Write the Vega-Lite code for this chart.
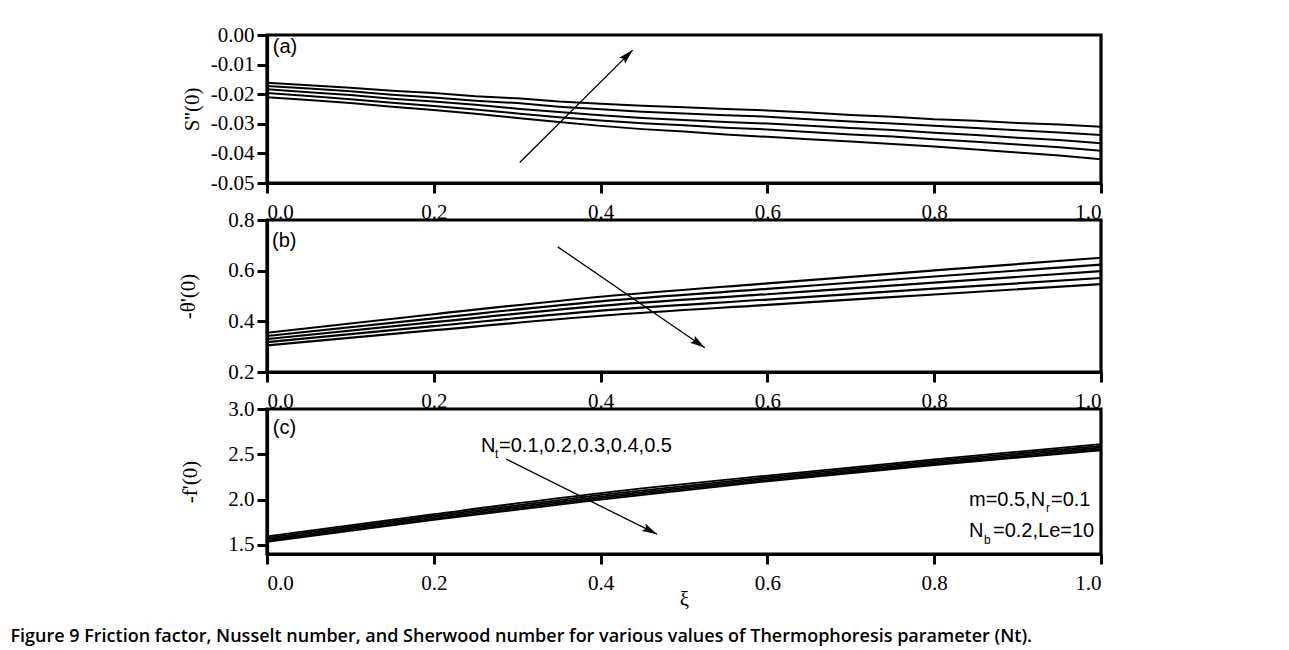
{
  "$schema": "https://vega.github.io/schema/vega-lite/v6.json",
  "background": "white",
  "padding": {"left": 10, "top": 22, "right": 10, "bottom": 4},
  "title": {
    "text": "Figure 9 Friction factor, Nusselt number, and Sherwood number for various values of Thermophoresis parameter (Nt).",
    "orient": "bottom",
    "anchor": "start",
    "frame": "bounds",
    "dx": -165,
    "offset": 17,
    "font": "Open Sans",
    "fontSize": 18,
    "fontWeight": 600,
    "color": "black"
  },
  "spacing": 37,
  "bounds": "flush",
  "config": {
    "view": {"stroke": "black", "strokeWidth": 3.2},
    "axis": {
      "domainColor": "black",
      "domainWidth": 3.2,
      "tickColor": "black",
      "tickWidth": 3,
      "tickSize": 10,
      "tickCount": 12,
      "grid": false,
      "labelOverlap": false,
      "labelFont": "Liberation Serif",
      "labelFontSize": 21,
      "labelColor": "black",
      "labelPadding": 3,
      "titleFont": "Liberation Serif",
      "titleFontSize": 21,
      "titleFontWeight": "normal",
      "titleColor": "black"
    },
    "axisX": {"labelPadding": 8}
  },
  "vconcat": [
    {
      "width": 834,
      "height": 148,
      "layer": [
        {
          "data": {"values": [
            {"xi": 0.00, "n1": -0.0161, "n2": -0.0172, "n3": -0.0183, "n4": -0.0196, "n5": -0.0210},
            {"xi": 0.05, "n1": -0.0170, "n2": -0.0181, "n3": -0.0193, "n4": -0.0206, "n5": -0.0220},
            {"xi": 0.10, "n1": -0.0178, "n2": -0.0190, "n3": -0.0203, "n4": -0.0217, "n5": -0.0230},
            {"xi": 0.15, "n1": -0.0188, "n2": -0.0202, "n3": -0.0215, "n4": -0.0229, "n5": -0.0242},
            {"xi": 0.20, "n1": -0.0196, "n2": -0.0211, "n3": -0.0225, "n4": -0.0240, "n5": -0.0253},
            {"xi": 0.25, "n1": -0.0207, "n2": -0.0222, "n3": -0.0236, "n4": -0.0252, "n5": -0.0266},
            {"xi": 0.30, "n1": -0.0214, "n2": -0.0230, "n3": -0.0249, "n4": -0.0265, "n5": -0.0280},
            {"xi": 0.35, "n1": -0.0225, "n2": -0.0242, "n3": -0.0260, "n4": -0.0278, "n5": -0.0294},
            {"xi": 0.40, "n1": -0.0232, "n2": -0.0251, "n3": -0.0271, "n4": -0.0289, "n5": -0.0307},
            {"xi": 0.45, "n1": -0.0239, "n2": -0.0259, "n3": -0.0280, "n4": -0.0298, "n5": -0.0318},
            {"xi": 0.50, "n1": -0.0244, "n2": -0.0265, "n3": -0.0287, "n4": -0.0305, "n5": -0.0326},
            {"xi": 0.55, "n1": -0.0250, "n2": -0.0271, "n3": -0.0294, "n4": -0.0313, "n5": -0.0336},
            {"xi": 0.60, "n1": -0.0255, "n2": -0.0276, "n3": -0.0299, "n4": -0.0319, "n5": -0.0344},
            {"xi": 0.65, "n1": -0.0262, "n2": -0.0285, "n3": -0.0307, "n4": -0.0328, "n5": -0.0352},
            {"xi": 0.70, "n1": -0.0270, "n2": -0.0292, "n3": -0.0314, "n4": -0.0336, "n5": -0.0360},
            {"xi": 0.75, "n1": -0.0276, "n2": -0.0299, "n3": -0.0321, "n4": -0.0343, "n5": -0.0368},
            {"xi": 0.80, "n1": -0.0285, "n2": -0.0307, "n3": -0.0330, "n4": -0.0352, "n5": -0.0377},
            {"xi": 0.85, "n1": -0.0290, "n2": -0.0314, "n3": -0.0338, "n4": -0.0361, "n5": -0.0387},
            {"xi": 0.90, "n1": -0.0297, "n2": -0.0322, "n3": -0.0347, "n4": -0.0370, "n5": -0.0397},
            {"xi": 0.95, "n1": -0.0302, "n2": -0.0329, "n3": -0.0355, "n4": -0.0379, "n5": -0.0407},
            {"xi": 1.00, "n1": -0.0310, "n2": -0.0338, "n3": -0.0366, "n4": -0.0391, "n5": -0.0420}
          ]},
          "transform": [{"fold": ["n1", "n2", "n3", "n4", "n5"], "as": ["Nt", "val"]}],
          "mark": {"type": "line", "color": "black", "strokeWidth": 2},
          "encoding": {
            "x": {"field": "xi", "type": "quantitative", "scale": {"domain": [0, 1], "nice": false},
                  "axis": {"values": [0, 0.2, 0.4, 0.6, 0.8, 1.0], "format": ".1f", "title": null}},
            "y": {"field": "val", "type": "quantitative", "scale": {"domain": [-0.05, 0], "nice": false},
                  "axis": {"values": [-0.05, -0.04, -0.03, -0.02, -0.01, 0], "tickCount": 12, "labelExpr": "datum.value < 0 ? '-' + format(-datum.value, '.2f') : format(datum.value, '.2f')", "title": "S''(0)", "titleX": -65}},
            "detail": {"field": "Nt"}
          }
        },
        {
          "data": {"values": [{"x1": 0.303, "y1": -0.0431, "x2": 0.4385, "y2": -0.0051}]},
          "mark": {"type": "rule", "color": "black", "strokeWidth": 1.3},
          "encoding": {
            "x": {"field": "x1", "type": "quantitative"},
            "y": {"field": "y1", "type": "quantitative"},
            "x2": {"field": "x2"},
            "y2": {"field": "y2"}
          }
        },
        {
          "data": {"values": [{"x2": 0.4385, "y2": -0.0051}]},
          "mark": {"type": "point", "shape": "M0,0L0.28,1L0,0.82L-0.28,1Z", "filled": true, "color": "black", "opacity": 1, "size": 900, "angle": 45},
          "encoding": {
            "x": {"field": "x2", "type": "quantitative"},
            "y": {"field": "y2", "type": "quantitative"}
          }
        },
        {
          "data": {"values": [{"x": 0.007, "y": -0.004, "t": "(a)"}]},
          "mark": {"type": "text", "align": "left", "baseline": "middle", "font": "Liberation Sans", "fontSize": 20, "color": "black"},
          "encoding": {
            "x": {"field": "x", "type": "quantitative"},
            "y": {"field": "y", "type": "quantitative"},
            "text": {"field": "t"}
          }
        }
      ]
    },
    {
      "width": 834,
      "height": 152,
      "layer": [
        {
          "data": {"values": [
            {"xi": 0.0, "n1": 0.355, "n2": 0.342, "n3": 0.330, "n4": 0.318, "n5": 0.305},
            {"xi": 0.2, "n1": 0.428, "n2": 0.412, "n3": 0.397, "n4": 0.381, "n5": 0.365},
            {"xi": 0.4, "n1": 0.497, "n2": 0.479, "n3": 0.461, "n4": 0.442, "n5": 0.422},
            {"xi": 0.6, "n1": 0.550, "n2": 0.528, "n3": 0.507, "n4": 0.486, "n5": 0.465},
            {"xi": 0.8, "n1": 0.601, "n2": 0.577, "n3": 0.553, "n4": 0.529, "n5": 0.506},
            {"xi": 1.0, "n1": 0.651, "n2": 0.624, "n3": 0.598, "n4": 0.571, "n5": 0.547}
          ]},
          "transform": [{"fold": ["n1", "n2", "n3", "n4", "n5"], "as": ["Nt", "val"]}],
          "mark": {"type": "line", "color": "black", "strokeWidth": 2.2, "interpolate": "monotone"},
          "encoding": {
            "x": {"field": "xi", "type": "quantitative", "scale": {"domain": [0, 1], "nice": false},
                  "axis": {"values": [0, 0.2, 0.4, 0.6, 0.8, 1.0], "format": ".1f", "title": null}},
            "y": {"field": "val", "type": "quantitative", "scale": {"domain": [0.2, 0.8], "nice": false},
                  "axis": {"values": [0.2, 0.4, 0.6, 0.8], "format": ".1f", "title": "-θ'(0)", "titleX": -69}},
            "detail": {"field": "Nt"}
          }
        },
        {
          "data": {"values": [{"x1": 0.3486, "y1": 0.694, "x2": 0.525, "y2": 0.296}]},
          "mark": {"type": "rule", "color": "black", "strokeWidth": 1.3},
          "encoding": {
            "x": {"field": "x1", "type": "quantitative"},
            "y": {"field": "y1", "type": "quantitative"},
            "x2": {"field": "x2"},
            "y2": {"field": "y2"}
          }
        },
        {
          "data": {"values": [{"x2": 0.525, "y2": 0.296}]},
          "mark": {"type": "point", "shape": "M0,0L0.28,1L0,0.82L-0.28,1Z", "filled": true, "color": "black", "opacity": 1, "size": 900, "angle": 124},
          "encoding": {
            "x": {"field": "x2", "type": "quantitative"},
            "y": {"field": "y2", "type": "quantitative"}
          }
        },
        {
          "data": {"values": [{"x": 0.006, "y": 0.7155, "t": "(b)"}]},
          "mark": {"type": "text", "align": "left", "baseline": "middle", "font": "Liberation Sans", "fontSize": 20, "color": "black"},
          "encoding": {
            "x": {"field": "x", "type": "quantitative"},
            "y": {"field": "y", "type": "quantitative"},
            "text": {"field": "t"}
          }
        }
      ]
    },
    {
      "width": 834,
      "height": 145,
      "layer": [
        {
          "data": {"values": [
            {"xi": 0.0, "n1": 1.595, "n2": 1.578, "n3": 1.562, "n4": 1.548, "n5": 1.535},
            {"xi": 0.2, "n1": 1.840, "n2": 1.822, "n3": 1.806, "n4": 1.790, "n5": 1.776},
            {"xi": 0.4, "n1": 2.072, "n2": 2.052, "n3": 2.034, "n4": 2.016, "n5": 2.000},
            {"xi": 0.6, "n1": 2.265, "n2": 2.248, "n3": 2.232, "n4": 2.216, "n5": 2.202},
            {"xi": 0.8, "n1": 2.445, "n2": 2.428, "n3": 2.412, "n4": 2.396, "n5": 2.382},
            {"xi": 1.0, "n1": 2.612, "n2": 2.593, "n3": 2.575, "n4": 2.558, "n5": 2.543}
          ]},
          "transform": [{"fold": ["n1", "n2", "n3", "n4", "n5"], "as": ["Nt", "val"]}],
          "mark": {"type": "line", "color": "black", "strokeWidth": 1.8, "interpolate": "monotone"},
          "encoding": {
            "x": {"field": "xi", "type": "quantitative", "scale": {"domain": [0, 1], "nice": false},
                  "axis": {"values": [0, 0.2, 0.4, 0.6, 0.8, 1.0], "format": ".1f", "title": "ξ", "titlePadding": -5}},
            "y": {"field": "val", "type": "quantitative", "scale": {"domain": [1.4, 3.0], "nice": false},
                  "axis": {"values": [1.5, 2.0, 2.5, 3.0], "format": ".1f", "title": "-f'(0)", "titleX": -67}},
            "detail": {"field": "Nt"}
          }
        },
        {
          "data": {"values": [{"x1": 0.2866, "y1": 2.447, "x2": 0.4676, "y2": 1.619}]},
          "mark": {"type": "rule", "color": "black", "strokeWidth": 1.3},
          "encoding": {
            "x": {"field": "x1", "type": "quantitative"},
            "y": {"field": "y1", "type": "quantitative"},
            "x2": {"field": "x2"},
            "y2": {"field": "y2"}
          }
        },
        {
          "data": {"values": [{"x2": 0.4676, "y2": 1.619}]},
          "mark": {"type": "point", "shape": "M0,0L0.28,1L0,0.82L-0.28,1Z", "filled": true, "color": "black", "opacity": 1, "size": 900, "angle": 117},
          "encoding": {
            "x": {"field": "x2", "type": "quantitative"},
            "y": {"field": "y2", "type": "quantitative"}
          }
        },
        {
          "data": {"values": [
            {"x": 0.007, "y": 2.788, "t": "(c)"},
            {"x": 0.2566, "y": 2.59, "t": "N"},
            {"x": 0.2782, "y": 2.59, "t": "=0.1,0.2,0.3,0.4,0.5"},
            {"x": 0.8417, "y": 1.997, "t": "m=0.5,N"},
            {"x": 0.9400, "y": 1.997, "t": "=0.1"},
            {"x": 0.8417, "y": 1.655, "t": "N"},
            {"x": 0.8705, "y": 1.655, "t": "=0.2,Le=10"}
          ]},
          "mark": {"type": "text", "align": "left", "baseline": "middle", "font": "Liberation Sans", "fontSize": 20, "color": "black"},
          "encoding": {
            "x": {"field": "x", "type": "quantitative"},
            "y": {"field": "y", "type": "quantitative"},
            "text": {"field": "t"}
          }
        },
        {
          "data": {"values": [
            {"x": 0.2734, "y": 2.504, "t": "t"},
            {"x": 0.9340, "y": 1.9105, "t": "r"},
            {"x": 0.8597, "y": 1.5545, "t": "b"}
          ]},
          "mark": {"type": "text", "align": "left", "baseline": "middle", "font": "Liberation Sans", "fontSize": 12, "color": "black"},
          "encoding": {
            "x": {"field": "x", "type": "quantitative"},
            "y": {"field": "y", "type": "quantitative"},
            "text": {"field": "t"}
          }
        }
      ]
    }
  ]
}
